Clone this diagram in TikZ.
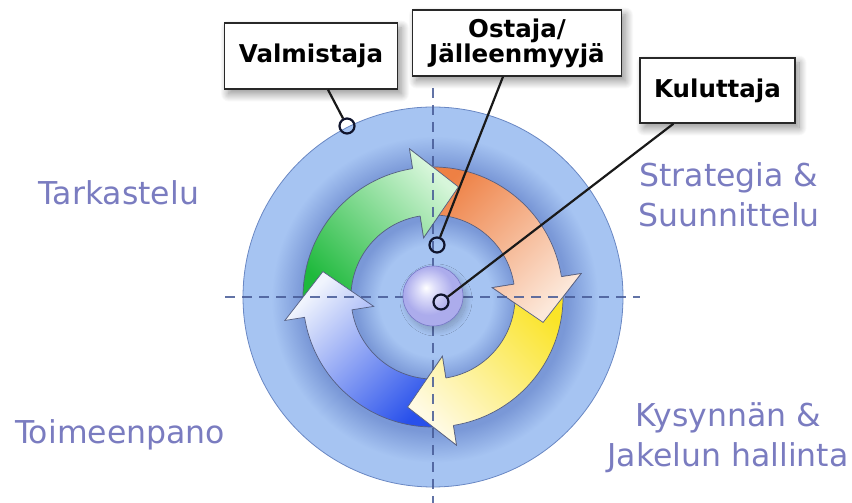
\documentclass[tikz,border=0pt]{standalone}
\usepackage{fontspec}
\setmainfont{DejaVu Sans}
\usetikzlibrary{shadows.blur}

\definecolor{ringblue}{RGB}{166,196,242}
\definecolor{halo}{RGB}{122,152,215}
\definecolor{ringedge}{RGB}{105,135,195}
\definecolor{quadtext}{RGB}{122,124,192}
\definecolor{axisline}{RGB}{70,90,150}
\definecolor{arrowline}{RGB}{85,95,130}
\definecolor{boxline}{RGB}{40,40,40}
\definecolor{dotline}{RGB}{15,20,45}
\definecolor{grnA}{RGB}{215,246,218}
\definecolor{grnB}{RGB}{125,224,140}
\definecolor{grnC}{RGB}{30,185,60}
\definecolor{orgA}{RGB}{252,232,218}
\definecolor{orgB}{RGB}{248,188,148}
\definecolor{orgC}{RGB}{238,128,68}
\definecolor{yelA}{RGB}{255,250,228}
\definecolor{yelB}{RGB}{255,240,150}
\definecolor{yelC}{RGB}{250,228,40}
\definecolor{bluA}{RGB}{240,244,253}
\definecolor{bluB}{RGB}{180,202,246}
\definecolor{bluC}{RGB}{40,80,235}
\definecolor{sphA}{RGB}{222,222,250}
\definecolor{sphB}{RGB}{172,172,236}
\definecolor{sphEdge}{RGB}{120,120,200}

% disc colour, darkening softly around the band of arrows (25bp = disc radius)
\pgfdeclareradialshading{discshade}{\pgfpoint{0.4bp}{-0.5bp}}{%
  color(0bp)=(ringblue); color(7.4bp)=(ringblue); color(10.6bp)=(halo);
  color(17.4bp)=(halo); color(21.5bp)=(ringblue); color(25bp)=(ringblue); color(50bp)=(ringblue)}
\pgfdeclareradialshading{sphereshade}{\pgfpoint{-6bp}{7bp}}{%
  color(0bp)=(white); color(7bp)=(sphA); color(20bp)=(sphB); color(50bp)=(sphB)}

\tikzset{
  % curved band with a head: #1 start angle, #2 angle of the head base
  ringarrow/.style 2 args={insert path={
    (#1:130) arc[start angle=#1, end angle=#2, radius=130]
    -- (#2:150) -- ({#2-22}:113) -- (#2:60) -- (#2:82)
    arc[start angle=#2, end angle=#1, radius=82] -- cycle}},
  arrowedge/.style={draw=arrowline, line width=0.7pt},
  greenfill/.style={top color=grnA, middle color=grnB, bottom color=grnC, shading angle=-45},
  orangefill/.style={top color=orgA, middle color=orgB, bottom color=orgC, shading angle=-135},
  yellowfill/.style={top color=yelA, middle color=yelB, bottom color=yelC, shading angle=135},
  bluefill/.style={top color=bluA, middle color=bluB, bottom color=bluC, shading angle=45},
  quadlabel/.style={text=quadtext, font=\fontsize{31.5}{40}\selectfont, align=center, inner sep=0pt},
  calloutbox/.style={draw=boxline, line width=1.4pt, fill=white, inner sep=0pt,
    font=\bfseries\fontsize{24.5}{24}\selectfont, align=center,
    blur shadow={shadow xshift=4pt, shadow yshift=-5pt, shadow blur radius=8pt,
      shadow blur steps=25, shadow opacity=45}},
  pindot/.style={circle, draw=dotline, line width=2.2pt, minimum size=15pt, inner sep=0pt},
  leader/.style={draw=black!90, line width=2.2pt},
  axis/.style={draw=axisline, line width=1.3pt, dash pattern=on 10pt off 7pt, opacity=0.85}
}

\begin{document}
\begin{tikzpicture}[x=1pt, y=1pt]
\useasboundingbox (0,0) rectangle (852,503);

% outer disc
\node[circle, shading=discshade, draw=ringedge, line width=0.8pt, minimum size=380pt, inner sep=0pt]
  (disc) at (433,206) {};

% the four cycle arrows, clockwise
\begin{scope}[shift={(433,206)}]
  \path[arrowedge, greenfill, ringarrow={185}{99}];
  \path[arrowedge, orangefill, ringarrow={95}{9}];
  \path[arrowedge, yellowfill, ringarrow={5}{-81}];
  \path[arrowedge, bluefill, ringarrow={-85}{-171}];

  % heads laid back over the following band
  \begin{scope}
    \clip (99:151) -- (76.5:114) -- (99:59) -- cycle;
    \path[greenfill, ringarrow={185}{99}];
  \end{scope}
  \draw[arrowedge] (99:82) -- (99:60) -- (77:113) -- (99:150) -- (99:130);

  \begin{scope}
    \clip (9:151) -- (-13.5:114) -- (9:59) -- cycle;
    \path[orangefill, ringarrow={95}{9}];
  \end{scope}
  \draw[arrowedge] (9:82) -- (9:60) -- (-13:113) -- (9:150) -- (9:130);

  \begin{scope}
    \clip (-81:151) -- (-103.5:114) -- (-81:59) -- cycle;
    \path[yellowfill, ringarrow={5}{-81}];
  \end{scope}
  \draw[arrowedge] (-81:82) -- (-81:60) -- (-103:113) -- (-81:150) -- (-81:130);
\end{scope}

% quadrant axes
\coordinate (axW) at (225,206);
\coordinate (axE) at (640,206);
\coordinate (axN) at (433,415);
\coordinate (axS) at (433,0);
\draw[axis] (axW) -- (axE);
\draw[axis] (axN) -- (axS);

% centre sphere
\node[circle, minimum size=60pt, inner sep=0pt, shading=sphereshade, draw=sphEdge, line width=0.6pt,
  blur shadow={shadow xshift=3pt, shadow yshift=-4pt, shadow blur radius=6pt,
    shadow blur steps=20, shadow opacity=22}]
  (core) at (433,207) {};

% quadrant captions
\node[quadlabel] (q1) at (119,310) {Tarkastelu};
\node[quadlabel] (q2) at (729,308) {Strategia \&\\Suunnittelu};
\node[quadlabel] (q3) at (120,68) {Toimeenpano};
\node[quadlabel] (q4) at (728,65) {Kysynnän \&\\Jakelun hallinta};

% callout boxes
\node[calloutbox, minimum width=173pt, minimum height=66pt] (vbox) at (311,447) {Valmistaja};
\node[calloutbox, minimum width=209pt, minimum height=66pt] (obox) at (517,460) {Ostaja/\\Jälleenmyyjä};
\node[calloutbox, minimum width=155pt, minimum height=65pt] (kbox) at (717.5,412.5) {Kuluttaja};

% pins and leaders
\node[pindot] (vdot) at (347,377) {};
\node[pindot] (odot) at (437,258) {};
\node[pindot] (kdot) at (441,201) {};
\draw[leader] ([xshift=17pt]vbox.south) -- (vdot);
\draw[leader] ([xshift=-14pt]obox.south) -- (odot);
\draw[leader] ([xshift=-44pt]kbox.south) -- (kdot);
\end{tikzpicture}
\end{document}
